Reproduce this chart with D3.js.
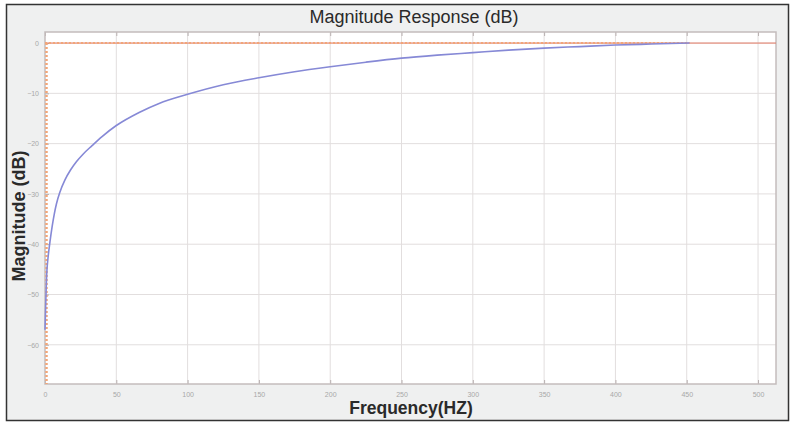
<!DOCTYPE html>
<html>
<head>
<meta charset="utf-8">
<script src="https://cdn.jsdelivr.net/npm/d3@7"></script>
<style>
body { margin: 0; background: #fff; }
</style>
</head>
<body>
<script>
var w = 791;
var h = 423;

// frequency (Hz) and magnitude (dB)
var freq = [0, 0.4, 0.8, 1.2, 2.2, 3.5, 5, 6.5, 8, 10.5, 14, 18, 22, 27, 33, 40, 50, 66, 80, 100, 125, 150, 175, 200, 225, 250, 275, 300, 325, 350, 375, 400, 425, 452];
var magDb = [-57, -53, -49, -46, -42.5, -39.5, -36.5, -34, -32, -29.6, -27.2, -25.2, -23.6, -22.0, -20.4, -18.6, -16.4, -13.8, -12.0, -10.2, -8.3, -6.9, -5.7, -4.7, -3.8, -3.0, -2.4, -1.9, -1.4, -1.0, -0.7, -0.4, -0.2, 0];
var xTicks = [0, 50, 100, 150, 200, 250, 300, 350, 400, 450, 500];
var yTicks = [0, -10, -20, -30, -40, -50, -60];

var pLeft = 45, pRight = 776, pTop = 32, pBottom = 384;

var svg = d3.select('body').append('svg').attr('width', w).attr('height', h);

// outer frame
svg.append('rect')
  .attr('x', 6.5).attr('y', 4.5).attr('width', 782).attr('height', 416)
  .attr('fill', '#eff0f0').attr('stroke', '#333').attr('stroke-width', 1.5);

var x = d3.scaleLinear().domain([0, 512.6]).range([pLeft, pRight]);
var y = d3.scaleLinear().domain([-67.8, 2.2]).range([pBottom, pTop]);

svg.append('rect')
  .attr('x', pLeft).attr('y', pTop).attr('width', pRight - pLeft).attr('height', pBottom - pTop)
  .attr('fill', '#fff');

// grid
svg.append('g').selectAll('line').data(xTicks.slice(1)).enter().append('line')
  .attr('x1', function(d) { return x(d); }).attr('x2', function(d) { return x(d); })
  .attr('y1', pTop).attr('y2', pBottom)
  .attr('stroke', '#e2dede').attr('stroke-width', 1);
svg.append('g').selectAll('line').data(yTicks).enter().append('line')
  .attr('x1', pLeft).attr('x2', pRight)
  .attr('y1', function(d) { return y(d); }).attr('y2', function(d) { return y(d); })
  .attr('stroke', '#e2dede').attr('stroke-width', 1);

// axes
function styleAxis(g) {
  g.select('.domain').remove();
  g.selectAll('.tick line').attr('stroke', '#b8b0b0');
  g.selectAll('.tick text').attr('fill', '#a8a8a8').attr('font-size', 7)
    .attr('font-family', 'Liberation Sans, Arial, sans-serif');
}
svg.append('g').attr('transform', 'translate(0,' + pBottom + ')')
  .call(d3.axisBottom(x).tickValues(xTicks).tickSize(-4).tickPadding(8)).call(styleAxis);
svg.append('g').attr('transform', 'translate(0,' + pTop + ')')
  .call(d3.axisTop(x).tickValues(xTicks).tickSize(-4).tickFormat('')).call(styleAxis);
svg.append('g').attr('transform', 'translate(' + pLeft + ',0)')
  .call(d3.axisLeft(y).tickValues(yTicks).tickSize(-4).tickPadding(6)).call(styleAxis);

svg.append('rect')
  .attr('x', pLeft).attr('y', pTop).attr('width', pRight - pLeft).attr('height', pBottom - pTop)
  .attr('fill', 'none').attr('stroke', '#c4bcbc').attr('stroke-width', 1.5);

// reference lines
svg.append('line')
  .attr('x1', x(0)).attr('x2', pRight).attr('y1', y(0)).attr('y2', y(0))
  .attr('stroke', '#e47a66').attr('stroke-width', 1);
svg.append('line')
  .attr('x1', x(0)).attr('x2', x(452)).attr('y1', y(0)).attr('y2', y(0))
  .attr('stroke', '#f2a678').attr('stroke-width', 2).attr('stroke-dasharray', '2,2');
svg.append('line')
  .attr('x1', x(0) + 1.5).attr('x2', x(0) + 1.5).attr('y1', y(0)).attr('y2', pBottom)
  .attr('stroke', '#f2a678').attr('stroke-width', 2.5).attr('stroke-dasharray', '2,2');

// magnitude curve
var pts = freq.map(function(f, i) { return [f, magDb[i]]; });
var line = d3.line()
  .x(function(d) { return x(d[0]); })
  .y(function(d) { return y(d[1]); })
  .curve(d3.curveMonotoneX);
svg.append('path').datum(pts)
  .attr('d', line)
  .attr('fill', 'none').attr('stroke', '#8689d6').attr('stroke-width', 1.6);

// labels
svg.append('text').text('Magnitude Response (dB)')
  .attr('x', 414).attr('y', 23).attr('text-anchor', 'middle')
  .attr('font-family', 'Liberation Sans, Arial, sans-serif').attr('font-size', 18).attr('fill', '#2a2a2a');
svg.append('text').text('Frequency(HZ)')
  .attr('x', 411).attr('y', 414).attr('text-anchor', 'middle')
  .attr('font-family', 'Liberation Sans, Arial, sans-serif').attr('font-size', 17.5)
  .attr('font-weight', 'bold').attr('fill', '#2a2a2a');
svg.append('text').text('Magnitude (dB)')
  .attr('transform', 'translate(25,216) rotate(-90)').attr('text-anchor', 'middle')
  .attr('font-family', 'Liberation Sans, Arial, sans-serif').attr('font-size', 18)
  .attr('font-weight', 'bold').attr('fill', '#2a2a2a');
</script>
</body>
</html>
